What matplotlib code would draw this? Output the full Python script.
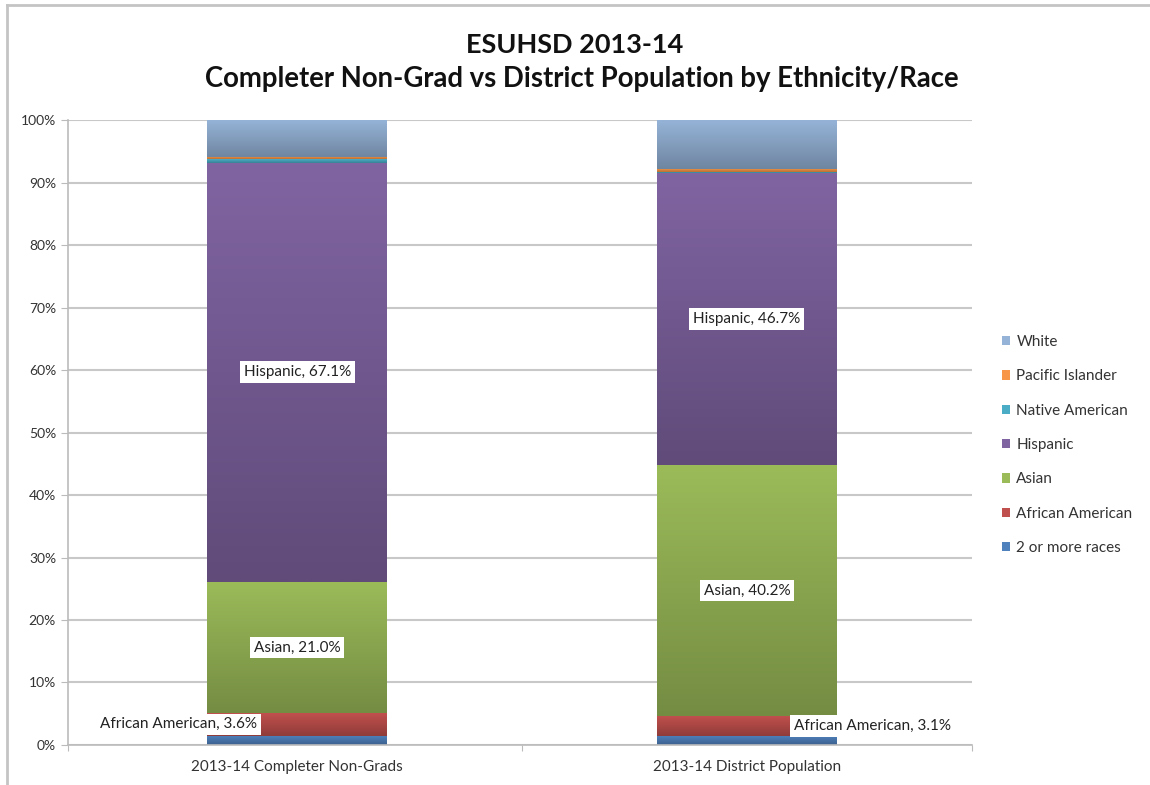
import matplotlib.pyplot as plt
import matplotlib.colors as mcolors
from matplotlib.lines import Line2D
import numpy as np

plt.rcParams['font.family'] = ['Lato', 'DejaVu Sans']

categories = ["2013-14 Completer Non-Grads", "2013-14 District Population"]
groups = ["2 or more races", "African American", "Asian", "Hispanic",
          "Native American", "Pacific Islander", "White"]
two_or_more = [1.5, 1.5]
african_american = [3.6, 3.1]
asian = [21.0, 40.2]
hispanic = [67.1, 46.7]
native_american = [0.5, 0.2]
pacific_islander = [0.4, 0.5]
white = [5.9, 7.8]

series = [two_or_more, african_american, asian, hispanic,
          native_american, pacific_islander, white]
colors = ["#4F81BD", "#C0504D", "#9BBB59", "#8064A2",
          "#4BACC6", "#F79646", "#95B3D7"]

fig = plt.figure(figsize=(11.5, 7.85), dpi=100)
ax = fig.add_axes([0.059, 0.051, 0.786, 0.796])

x = np.arange(len(categories))
width = 0.4
bottom = np.zeros(len(categories))
bars = {}
for name, vals, col in zip(groups, series, colors):
    vals = np.array(vals)
    b = ax.bar(x, vals, width, bottom=bottom, color=col, label=name,
               edgecolor="none", zorder=2)
    # simple vertical gradient: lighter at top, darker at bottom
    base = np.array(mcolors.to_rgb(col))
    grad = np.linspace(0.75, 1.0, 64)[:, None, None] * base[None, None, :]
    grad = np.clip(grad, 0, 1)
    for rect in b:
        x0, y0 = rect.get_x(), rect.get_y()
        im = ax.imshow(grad, extent=[x0, x0 + rect.get_width(), y0, y0 + rect.get_height()],
                       origin="lower", aspect="auto", zorder=2.1, interpolation="bilinear")
        im.set_clip_path(rect)
    bars[name] = (vals, bottom.copy())
    bottom += vals

ax.set_xlim(-0.51, 1.5)
ax.set_ylim(0, 100)
ax.set_yticks(np.arange(0, 101, 10))
ax.set_yticklabels([f"{v}%" for v in range(0, 101, 10)], fontsize=10, color="#333333")
ax.set_xticks([-0.51, 0.5, 1.5], minor=False)
ax.set_xticklabels(["", "", ""])
ax.set_xticks(x, minor=True)
ax.set_xticklabels(categories, minor=True, fontsize=11, color="#333333")
ax.tick_params(axis="x", which="minor", length=0, pad=11)
ax.tick_params(axis="x", which="major", length=4, color="#BBBBBB")
ax.tick_params(axis="y", length=5, color="#BBBBBB")
ax.grid(axis="y", color="#C8C8C8", linewidth=1.5, zorder=0)
ax.set_axisbelow(True)
for s in ["top", "right"]:
    ax.spines[s].set_visible(False)
for s in ["left", "bottom"]:
    ax.spines[s].set_color("#BBBBBB")
    ax.spines[s].set_linewidth(1.2)

box = dict(boxstyle="square,pad=0.25", facecolor="white", edgecolor="none")


def label(name, i, dx=0.0, ha="center"):
    vals, bot = bars[name]
    ymid = bot[i] + vals[i] / 2
    ax.text(x[i] + dx, ymid, f"{name}, {vals[i]:.1f}%", ha=ha, va="center",
            fontsize=11, color="#222222", bbox=box, zorder=5)


for i in range(2):
    label("Hispanic", i)
    label("Asian", i)
label("African American", 0, dx=-0.09, ha="right")
label("African American", 1, dx=0.105, ha="left")

handles, labs = ax.get_legend_handles_labels()
leg = ax.legend(handles[::-1], labs[::-1], loc="center left", bbox_to_anchor=(1.018, 0.48),
                frameon=False, fontsize=11, handlelength=0.55, handleheight=0.55,
                handletextpad=0.4, labelspacing=1.33, labelcolor="#333333")

fig.text(0.5, 0.943, "ESUHSD 2013-14", ha="center", va="center",
         fontsize=19.5, fontweight="bold", color="#111111")
fig.text(0.506, 0.899, "Completer Non-Grad vs District Population by Ethnicity/Race",
         ha="center", va="center", fontsize=19.8, fontweight="bold", color="#111111")

fig.add_artist(Line2D([0.0065, 0.0065], [0.0, 0.994], color="#C4C4C4", linewidth=2))
fig.add_artist(Line2D([0.0065, 1.0], [0.994, 0.994], color="#C4C4C4", linewidth=2))

fig.savefig("out.png", dpi=100)
